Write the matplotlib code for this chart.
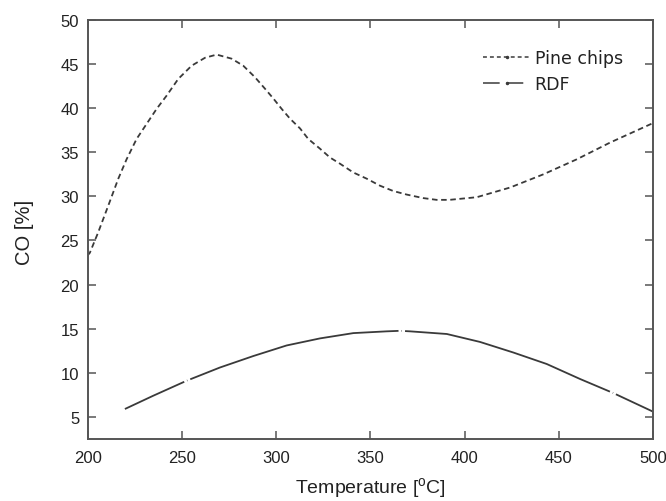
import matplotlib
matplotlib.use('Agg')
import matplotlib.pyplot as plt
from matplotlib.lines import Line2D

# 数据
pine_t = [200.0, 201.2, 205.6, 210.9, 216.3, 220.7, 226.0, 231.3, 236.6, 241.9, 248.1,
          255.2, 262.3, 268.5, 276.4, 282.6, 288.8, 294.1, 298.5, 303.0, 307.4, 312.7,
          317.1, 323.3, 328.6, 333.9, 341.0, 348.1, 355.2, 362.2, 369.3, 378.1, 385.2,
          392.0, 406.5, 424.2, 441.9, 459.6, 477.3, 500.0]
pine_co = [23.3, 23.6, 25.9, 28.9, 32.0, 34.2, 36.5, 38.2, 39.9, 41.4, 43.3,
           44.8, 45.7, 46.06, 45.6, 44.8, 43.5, 42.2, 41.1, 39.9, 38.8, 37.7,
           36.5, 35.4, 34.4, 33.7, 32.7, 32.0, 31.2, 30.6, 30.2, 29.8, 29.6,
           29.6, 29.9, 31.0, 32.5, 34.2, 36.1, 38.3]

rdf_t = [219.8, 234.8, 252.5, 270.2, 287.9, 305.6, 323.3, 341.0, 358.7, 365.8,
         371.1, 390.6, 408.2, 425.9, 443.6, 461.3, 479.0, 500.0]
rdf_co = [5.9, 7.4, 9.1, 10.6, 11.9, 13.1, 13.9, 14.5, 14.7, 14.76,
          14.7, 14.4, 13.5, 12.3, 11.0, 9.3, 7.7, 5.6]

x_ticks = [200, 250, 300, 350, 400, 450, 500]
y_ticks = [5, 10, 15, 20, 25, 30, 35, 40, 45, 50]

plt.rcParams['font.family'] = ['Liberation Sans', 'DejaVu Sans']
plt.rcParams['mathtext.fontset'] = 'custom'
plt.rcParams['mathtext.rm'] = 'Liberation Sans'
plt.rcParams['mathtext.it'] = 'Liberation Sans'
plt.rcParams['lines.scale_dashes'] = False

axis_color = '#555555'
line_color = '#3a3a3a'

fig = plt.figure(figsize=(6.66, 5.02), dpi=100)
ax = fig.add_axes([0.1315, 0.1235, 0.849, 0.835])

ax.plot(pine_t, pine_co, color=line_color, lw=1.3, ls=(0, (4.0, 2.6)))
ax.plot(rdf_t, rdf_co, color=line_color, lw=1.3, ls=(108, (155, 2.2, 0.3, 2.2)))

ax.set_xlim(200, 500)
ax.set_ylim(2.5, 50)
ax.set_xticks(x_ticks)
ax.set_yticks(y_ticks)
ax.tick_params(direction='in', length=6, width=1.1, color=axis_color,
               top=True, right=True, labelsize=12, labelcolor='#222222')
ax.tick_params(axis='y', pad=6)
ax.tick_params(axis='x', pad=8)
for sp in ax.spines.values():
    sp.set_color(axis_color)
    sp.set_linewidth(1.4)

ax.set_xlabel(r'Temperature [$^{\mathrm{o}}$C]', fontsize=14, color='#222222', labelpad=7)
ax.set_ylabel('CO [%]', fontsize=14.5, color='#222222')
ax.yaxis.set_label_coords(-0.094, 0.495)

# 图例（自定义句柄）
h_pine = Line2D([], [], color=line_color, lw=1.1, ls=(0, (2.8, 2.2)),
                marker='.', markersize=3)
h_rdf = Line2D([], [], color=line_color, lw=1.1, ls=(0, (12, 5)),
               marker='.', markersize=3)
leg = ax.legend([h_pine, h_rdf], ['Pine chips', 'RDF'], loc='upper left',
                bbox_to_anchor=(0.70, 0.93), frameon=False, borderpad=0,
                borderaxespad=0, handlelength=2.7, handletextpad=0.25,
                labelspacing=0.45, numpoints=1,
                prop={'family': 'DejaVu Sans', 'size': 12.5})
for t in leg.get_texts():
    t.set_color('#222222')

plt.savefig('out.png', dpi=100)
